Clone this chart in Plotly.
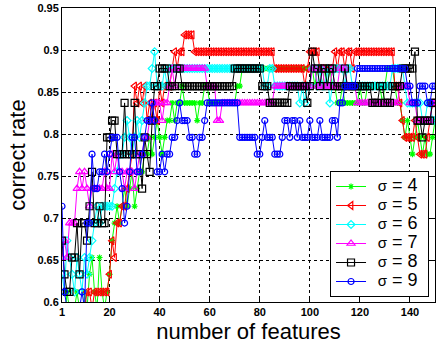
import plotly.graph_objects as go

features = list(range(1, 151))

sigma4 = [0.592, 0.571, 0.612, 0.592, 0.571, 0.592, 0.612, 0.592, 0.571, 0.612,
          0.592, 0.633, 0.653, 0.612, 0.592, 0.653, 0.612, 0.592, 0.612, 0.633,
          0.673, 0.694, 0.714, 0.694, 0.714, 0.735, 0.714, 0.735, 0.755, 0.714,
          0.735, 0.755, 0.755, 0.776, 0.776, 0.796, 0.776, 0.796, 0.816, 0.796,
          0.776, 0.796, 0.816, 0.816, 0.837, 0.816, 0.837, 0.837, 0.857, 0.837,
          0.837, 0.837, 0.837, 0.837, 0.816, 0.837, 0.837, 0.857, 0.857, 0.837,
          0.837, 0.837, 0.837, 0.837, 0.837, 0.837, 0.837, 0.837, 0.837, 0.837,
          0.857, 0.857, 0.878, 0.878, 0.878, 0.878, 0.878, 0.878, 0.878, 0.878,
          0.878, 0.878, 0.878, 0.878, 0.878, 0.878, 0.878, 0.878, 0.878, 0.878,
          0.878, 0.878, 0.878, 0.878, 0.878, 0.878, 0.878, 0.878, 0.878, 0.878,
          0.878, 0.857, 0.878, 0.878, 0.857, 0.878, 0.857, 0.878, 0.857, 0.857,
          0.837, 0.837, 0.857, 0.837, 0.837, 0.837, 0.837, 0.837, 0.837, 0.857,
          0.837, 0.837, 0.857, 0.857, 0.857, 0.857, 0.857, 0.857, 0.837, 0.857,
          0.878, 0.878, 0.878, 0.857, 0.837, 0.837, 0.816, 0.796, 0.816, 0.796,
          0.776, 0.796, 0.816, 0.796, 0.776, 0.796, 0.776, 0.776, 0.796, 0.816]

sigma5 = [0.571, 0.592, 0.571, 0.551, 0.571, 0.592, 0.571, 0.592, 0.571, 0.592,
          0.612, 0.612, 0.592, 0.612, 0.612, 0.612, 0.612, 0.612, 0.612, 0.633,
          0.673, 0.653, 0.694, 0.694, 0.714, 0.714, 0.735, 0.755, 0.776, 0.857,
          0.837, 0.857, 0.837, 0.857, 0.816, 0.837, 0.816, 0.837, 0.816, 0.857,
          0.837, 0.857, 0.857, 0.857, 0.878, 0.898, 0.878, 0.898, 0.898, 0.918,
          0.918, 0.918, 0.918, 0.898, 0.898, 0.898, 0.898, 0.898, 0.898, 0.898,
          0.898, 0.898, 0.898, 0.898, 0.898, 0.898, 0.898, 0.898, 0.898, 0.898,
          0.898, 0.898, 0.898, 0.898, 0.898, 0.898, 0.898, 0.898, 0.898, 0.898,
          0.898, 0.898, 0.898, 0.898, 0.898, 0.878, 0.878, 0.878, 0.878, 0.878,
          0.878, 0.878, 0.878, 0.878, 0.878, 0.878, 0.878, 0.857, 0.878, 0.898,
          0.898, 0.898, 0.898, 0.878, 0.878, 0.878, 0.878, 0.878, 0.878, 0.898,
          0.878, 0.898, 0.898, 0.878, 0.898, 0.898, 0.878, 0.898, 0.898, 0.898,
          0.898, 0.898, 0.898, 0.898, 0.898, 0.898, 0.898, 0.898, 0.898, 0.898,
          0.898, 0.898, 0.898, 0.857, 0.857, 0.837, 0.816, 0.796, 0.796, 0.796,
          0.796, 0.816, 0.796, 0.776, 0.776, 0.776, 0.796, 0.816, 0.837, 0.837]

sigma6 = [0.633, 0.612, 0.673, 0.653, 0.633, 0.612, 0.653, 0.633, 0.612, 0.653,
          0.633, 0.653, 0.673, 0.694, 0.714, 0.694, 0.714, 0.714, 0.714, 0.714,
          0.714, 0.735, 0.755, 0.776, 0.776, 0.796, 0.816, 0.796, 0.776, 0.796,
          0.816, 0.796, 0.816, 0.837, 0.857, 0.857, 0.878, 0.898, 0.857, 0.857,
          0.857, 0.878, 0.857, 0.878, 0.878, 0.878, 0.878, 0.878, 0.878, 0.878,
          0.878, 0.878, 0.878, 0.878, 0.878, 0.878, 0.878, 0.878, 0.878, 0.878,
          0.878, 0.878, 0.878, 0.878, 0.878, 0.878, 0.878, 0.878, 0.878, 0.878,
          0.878, 0.878, 0.878, 0.878, 0.878, 0.878, 0.878, 0.878, 0.878, 0.878,
          0.878, 0.857, 0.857, 0.878, 0.878, 0.857, 0.857, 0.857, 0.857, 0.857,
          0.857, 0.857, 0.857, 0.857, 0.857, 0.837, 0.857, 0.837, 0.857, 0.857,
          0.878, 0.878, 0.857, 0.878, 0.857, 0.857, 0.878, 0.837, 0.857, 0.878,
          0.878, 0.878, 0.878, 0.857, 0.878, 0.878, 0.857, 0.857, 0.857, 0.857,
          0.857, 0.857, 0.857, 0.857, 0.857, 0.857, 0.857, 0.857, 0.857, 0.857,
          0.857, 0.857, 0.878, 0.878, 0.878, 0.878, 0.878, 0.857, 0.837, 0.837,
          0.837, 0.837, 0.837, 0.837, 0.816, 0.816, 0.837, 0.837, 0.816, 0.816]

sigma7 = [0.653, 0.673, 0.653, 0.694, 0.694, 0.694, 0.735, 0.755, 0.735, 0.755,
          0.735, 0.714, 0.735, 0.735, 0.735, 0.735, 0.735, 0.755, 0.735, 0.735,
          0.776, 0.755, 0.776, 0.755, 0.755, 0.735, 0.755, 0.755, 0.755, 0.735,
          0.755, 0.776, 0.776, 0.796, 0.796, 0.816, 0.816, 0.837, 0.837, 0.837,
          0.816, 0.837, 0.837, 0.857, 0.878, 0.857, 0.878, 0.878, 0.878, 0.878,
          0.878, 0.878, 0.878, 0.878, 0.878, 0.878, 0.878, 0.878, 0.857, 0.857,
          0.857, 0.857, 0.816, 0.816, 0.837, 0.837, 0.837, 0.837, 0.837, 0.837,
          0.837, 0.837, 0.837, 0.837, 0.837, 0.837, 0.837, 0.837, 0.837, 0.837,
          0.837, 0.837, 0.837, 0.837, 0.837, 0.857, 0.857, 0.857, 0.857, 0.857,
          0.857, 0.857, 0.857, 0.857, 0.857, 0.857, 0.857, 0.857, 0.857, 0.857,
          0.878, 0.878, 0.857, 0.857, 0.878, 0.857, 0.857, 0.857, 0.878, 0.857,
          0.857, 0.878, 0.878, 0.878, 0.857, 0.857, 0.857, 0.857, 0.837, 0.837,
          0.837, 0.837, 0.837, 0.837, 0.837, 0.837, 0.837, 0.837, 0.837, 0.837,
          0.837, 0.837, 0.837, 0.837, 0.837, 0.857, 0.857, 0.857, 0.857, 0.837,
          0.837, 0.837, 0.816, 0.816, 0.816, 0.816, 0.816, 0.816, 0.837, 0.837]

sigma8 = [0.673, 0.633, 0.612, 0.612, 0.653, 0.653, 0.694, 0.633, 0.694, 0.694,
          0.673, 0.714, 0.755, 0.694, 0.694, 0.714, 0.694, 0.694, 0.796, 0.796,
          0.816, 0.816, 0.776, 0.776, 0.776, 0.837, 0.776, 0.776, 0.776, 0.837,
          0.776, 0.776, 0.735, 0.796, 0.776, 0.755, 0.816, 0.857, 0.857, 0.878,
          0.878, 0.878, 0.878, 0.857, 0.857, 0.857, 0.878, 0.878, 0.857, 0.857,
          0.857, 0.857, 0.857, 0.857, 0.857, 0.857, 0.857, 0.857, 0.857, 0.857,
          0.857, 0.857, 0.857, 0.857, 0.857, 0.857, 0.857, 0.857, 0.857, 0.878,
          0.878, 0.878, 0.878, 0.878, 0.878, 0.878, 0.878, 0.878, 0.878, 0.878,
          0.857, 0.857, 0.857, 0.837, 0.837, 0.837, 0.837, 0.837, 0.837, 0.837,
          0.837, 0.857, 0.857, 0.857, 0.857, 0.857, 0.857, 0.857, 0.837, 0.857,
          0.898, 0.878, 0.878, 0.857, 0.878, 0.878, 0.857, 0.878, 0.878, 0.857,
          0.857, 0.857, 0.857, 0.878, 0.857, 0.857, 0.857, 0.857, 0.857, 0.857,
          0.857, 0.857, 0.857, 0.857, 0.837, 0.837, 0.837, 0.857, 0.857, 0.837,
          0.837, 0.837, 0.857, 0.857, 0.857, 0.857, 0.878, 0.878, 0.878, 0.878,
          0.878, 0.898, 0.816, 0.816, 0.796, 0.816, 0.816, 0.816, 0.837, 0.837]

sigma9 = [0.714, 0.612, 0.592, 0.592, 0.571, 0.592, 0.571, 0.592, 0.612, 0.592,
          0.694, 0.694, 0.776, 0.735, 0.735, 0.755, 0.755, 0.776, 0.755, 0.776,
          0.796, 0.796, 0.796, 0.755, 0.735, 0.694, 0.714, 0.755, 0.796, 0.796,
          0.755, 0.755, 0.776, 0.796, 0.816, 0.816, 0.837, 0.816, 0.755, 0.755,
          0.776, 0.755, 0.776, 0.776, 0.796, 0.796, 0.816, 0.837, 0.816, 0.816,
          0.816, 0.796, 0.796, 0.776, 0.776, 0.796, 0.796, 0.816, 0.837, 0.837,
          0.837, 0.837, 0.837, 0.837, 0.837, 0.837, 0.837, 0.837, 0.837, 0.837,
          0.837, 0.796, 0.796, 0.796, 0.796, 0.796, 0.796, 0.796, 0.776, 0.776,
          0.796, 0.816, 0.796, 0.796, 0.796, 0.776, 0.776, 0.776, 0.796, 0.816,
          0.816, 0.796, 0.816, 0.816, 0.796, 0.816, 0.796, 0.796, 0.796, 0.816,
          0.796, 0.796, 0.796, 0.816, 0.796, 0.796, 0.796, 0.796, 0.816, 0.816,
          0.796, 0.837, 0.837, 0.857, 0.857, 0.857, 0.857, 0.857, 0.878, 0.878,
          0.878, 0.878, 0.878, 0.878, 0.878, 0.878, 0.878, 0.878, 0.878, 0.878,
          0.878, 0.878, 0.878, 0.878, 0.878, 0.878, 0.878, 0.878, 0.857, 0.857,
          0.837, 0.837, 0.837, 0.857, 0.857, 0.857, 0.837, 0.837, 0.857, 0.857]

sigma_labels = ["4", "5", "6", "7", "8", "9"]
series_values = [sigma4, sigma5, sigma6, sigma7, sigma8, sigma9]
colors = ["#00ff00", "#ff0000", "#00ffff", "#ff00ff", "#000000", "#0000ff"]
symbols = ["asterisk-open", "triangle-left-open", "diamond-open",
           "triangle-up-open", "square-open", "circle-open"]
sizes = [5, 7, 6, 7, 7, 6]

x_tickvals = [1, 20, 40, 60, 80, 100, 120, 140, 150]
y_tickvals = [0.6, 0.65, 0.7, 0.75, 0.8, 0.85, 0.9, 0.95]
y_ticktext = ["0.6", "0.65", "0.7", "0.75", "0.8", "0.85", "0.9", "0.95"]

fig = go.Figure()
for lab, vals, c, s, sz in zip(sigma_labels, series_values, colors, symbols, sizes):
    name = ('\u00a0\u00a0<span style="font-size:15px">σ</span>'
            '<span style="font-size:18px"> = ' + lab + '\u00a0</span>')
    fig.add_trace(go.Scatter(
        x=features, y=vals, mode="lines+markers", name=name,
        line=dict(color=c, width=1),
        marker=dict(symbol=s, size=sz, color=c, line=dict(color=c, width=1.2)),
    ))

axis_common = dict(
    showline=True, linecolor="black", linewidth=1, mirror="ticks",
    ticks="inside", ticklen=4, tickcolor="black",
    showgrid=True, gridcolor="black", gridwidth=1, griddash="3px,3px",
    zeroline=False, automargin=False,
    tickfont=dict(family="Liberation Sans, Arial", size=11, color="black", weight="bold"),
)

fig.update_layout(
    width=443, height=349,
    margin=dict(l=62, r=8, t=8, b=47),
    paper_bgcolor="white", plot_bgcolor="white",
    font=dict(family="Liberation Sans, Arial", color="black"),
    xaxis=dict(range=[1, 150], tickvals=x_tickvals,
               title=dict(text="number of features", font=dict(size=22), standoff=6),
               **axis_common),
    yaxis=dict(range=[0.6, 0.95], tickvals=y_tickvals, ticktext=y_ticktext,
               title=dict(text="correct rate", font=dict(size=22), standoff=5),
               **axis_common),
    legend=dict(x=0.984, y=0.017, xanchor="right", yanchor="bottom",
                bgcolor="white", bordercolor="black", borderwidth=1,
                font=dict(size=12, family="Liberation Sans, Arial"),
                tracegroupgap=0, itemwidth=30),
    showlegend=True,
)

fig.write_html("out.html", config={"displayModeBar": False},
               post_script="document.body.style.margin='0';document.body.style.padding='0';")
